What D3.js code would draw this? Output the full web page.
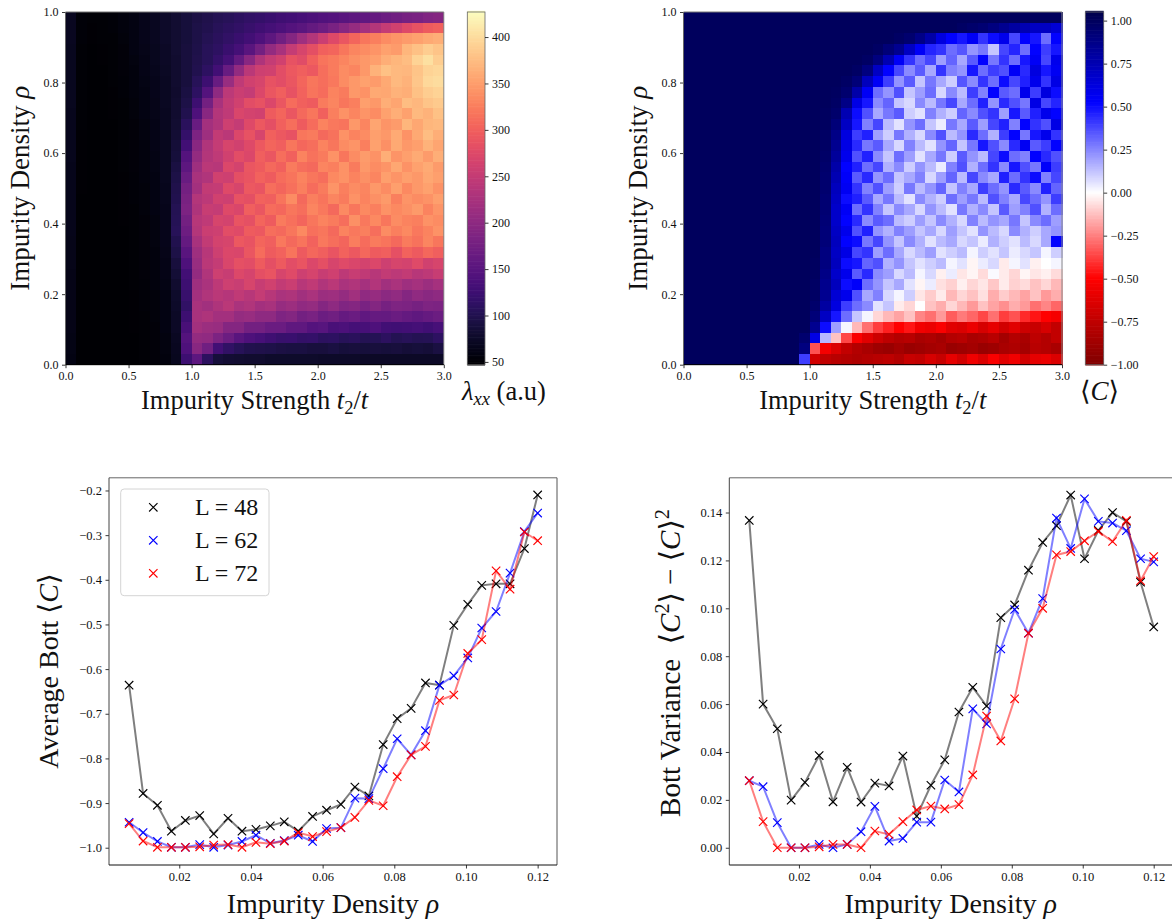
<!DOCTYPE html>
<html><head><meta charset="utf-8">
<script src="https://d3js.org/d3.v7.min.js"></script>
<style>html,body{margin:0;padding:0;background:#fff;overflow:hidden}svg{display:block}text{font-family:"Liberation Serif","Times New Roman",serif;fill:#111}</style>
</head><body><div id="c"></div>
<script>
// Heat map columns: impurity strength t2/t at cell centres
const strengths=[0.042,0.125,0.208,0.292,0.375,0.458,0.542,0.625,0.708,0.792,0.875,0.958,1.042,1.125,1.208,1.292,1.375,1.458,1.542,1.625,1.708,1.792,1.875,1.958,2.042,2.125,2.208,2.292,2.375,2.458,2.542,2.625,2.708,2.792,2.875,2.958];
// Heat map rows: impurity density rho at cell centres, top to bottom
const densities=[0.985,0.955,0.924,0.894,0.864,0.833,0.803,0.773,0.742,0.712,0.682,0.652,0.621,0.591,0.561,0.530,0.500,0.470,0.439,0.409,0.379,0.348,0.318,0.288,0.258,0.227,0.197,0.167,0.136,0.106,0.076,0.045,0.015];
// lambda_xx, one row per density
const lambdaGrid=[
[70,52,50,50,52,56,60,65,70,76,82,88,94,98,102,106,110,114,118,122,126,130,134,138,142,146,150,154,158,162,168,172,178,182,188,192],
[70,52,49,50,52,56,60,65,70,76,82,88,95,100,105,110,115,120,126,132,138,145,152,160,170,182,195,208,222,235,250,262,275,285,295,300],
[70,52,49,50,51,55,60,65,70,76,82,88,95,102,108,115,122,130,140,155,172,192,215,235,255,275,290,305,318,325,335,342,348,352,358,362],
[69,51,48,49,51,54,59,64,69,75,82,90,97,105,112,122,132,150,175,205,225,250,268,282,300,305,318,330,335,342,352,348,368,378,388,380],
[69,51,48,49,50,54,58,63,68,74,81,89,98,106,118,132,160,195,230,250,262,285,278,300,316,322,330,338,345,350,362,368,375,392,402,388],
[68,51,48,48,50,53,57,62,67,73,80,89,100,112,130,165,205,240,258,262,280,292,298,292,312,322,335,330,345,365,378,372,370,380,392,395],
[68,50,48,48,50,52,56,61,66,72,80,90,105,125,165,210,245,262,268,285,280,290,305,318,312,320,335,345,352,348,358,372,366,382,396,400],
[68,50,48,48,49,52,56,60,65,71,79,92,112,145,200,242,255,250,272,290,298,285,302,316,310,328,322,345,340,358,356,366,362,378,388,392],
[68,50,47,48,49,51,55,60,64,71,80,95,125,175,225,248,262,280,285,272,290,310,300,296,322,330,318,325,350,345,362,355,375,370,380,385],
[67,50,47,48,49,51,55,59,64,70,80,100,140,195,235,245,270,265,262,295,305,290,308,318,300,325,340,330,342,335,352,362,352,372,366,378],
[67,50,47,47,48,51,54,58,63,70,82,108,165,220,232,258,250,275,292,282,300,312,295,310,328,320,316,345,330,355,342,348,368,356,368,372],
[67,49,47,47,48,50,54,58,62,69,84,118,185,215,248,240,272,285,268,300,292,285,318,322,308,315,340,328,335,350,345,360,340,358,375,362],
[67,49,47,47,48,50,53,57,62,69,86,130,195,232,250,268,262,275,292,305,298,318,306,312,328,318,335,342,325,352,338,358,345,350,366,355],
[67,49,47,47,48,50,53,57,61,68,88,145,205,235,245,262,280,272,298,290,312,300,328,315,322,340,318,335,348,340,362,342,350,360,348,362],
[66,49,47,47,48,50,53,56,61,68,92,155,215,240,238,272,265,290,295,308,300,322,312,308,330,325,340,322,345,335,342,356,340,352,360,348],
[66,49,47,47,47,49,52,56,60,68,95,165,225,232,262,258,282,288,302,296,310,316,328,318,312,332,340,328,338,330,350,342,350,345,356,350],
[66,49,47,47,47,49,52,55,60,67,98,175,220,248,250,275,268,292,288,312,305,314,326,310,322,342,325,335,330,345,335,350,332,345,352,340],
[66,48,47,47,47,49,52,55,59,67,100,180,235,242,262,258,285,282,302,298,316,335,308,325,316,330,322,340,328,338,346,325,342,335,340,350],
[65,48,47,47,47,49,51,55,59,66,102,185,230,252,250,275,270,298,290,310,306,318,312,330,320,308,334,318,332,325,340,332,338,346,328,342],
[65,48,47,47,47,49,51,54,58,66,104,175,238,245,268,265,288,284,304,296,322,314,304,318,328,322,312,338,320,332,318,336,328,326,340,335],
[65,48,47,47,47,48,51,54,58,65,105,170,235,255,258,280,276,296,292,312,308,318,332,314,318,308,328,320,326,312,335,325,332,320,328,340],
[64,48,47,47,47,48,50,54,58,65,100,160,225,248,265,268,292,286,304,298,320,308,316,302,320,312,304,324,310,322,316,308,322,315,330,318],
[64,48,47,47,47,48,50,53,57,64,95,150,215,238,258,272,270,290,310,296,302,316,294,306,298,288,302,292,306,296,298,284,302,294,306,298],
[64,47,47,47,47,48,50,53,57,63,90,140,210,240,250,270,284,280,295,282,294,280,288,272,282,268,276,270,264,272,258,268,264,276,262,268],
[63,47,47,47,47,48,50,53,56,62,85,130,205,232,258,252,274,266,282,288,268,276,258,266,252,260,244,252,246,238,248,242,248,238,244,252],
[63,47,47,47,47,48,50,52,56,61,80,125,215,226,244,258,254,268,252,262,248,256,238,246,232,240,226,232,222,234,218,226,216,222,212,222],
[63,47,47,47,47,47,49,52,55,60,78,120,220,232,240,236,246,238,250,238,226,230,218,226,212,216,206,218,202,208,198,204,192,202,196,200],
[62,47,47,47,47,47,49,52,55,60,76,115,225,218,230,240,226,232,220,224,208,214,202,206,192,200,188,192,182,190,178,186,184,178,186,184],
[62,47,47,47,47,47,49,51,55,59,75,125,225,230,220,220,206,210,200,200,186,190,176,182,168,172,162,166,158,162,160,166,160,156,162,168],
[62,47,47,47,47,47,49,51,54,59,74,135,220,212,210,192,192,176,176,166,166,156,156,146,148,136,138,132,134,140,130,128,130,132,128,134],
[61,47,47,47,47,47,48,51,54,58,72,145,205,202,184,168,150,140,134,126,120,122,116,118,110,112,106,108,102,104,110,102,106,102,104,112],
[61,47,47,47,47,47,48,51,54,58,70,140,195,172,130,115,105,100,98,96,94,92,92,90,90,92,88,90,88,90,88,90,86,88,86,92],
[60,47,47,47,47,47,48,50,53,57,68,125,155,110,88,84,82,80,80,78,78,78,77,77,76,76,76,76,75,75,75,75,75,74,74,74]];
// Average Bott index <C> in hundredths
const bottGrid=[
[100,100,100,100,100,100,100,100,100,100,100,100,100,100,100,100,100,100,100,100,100,100,100,100,100,100,100,100,100,100,100,100,100,100,100,100],
[100,100,100,100,100,100,100,100,100,100,100,100,100,100,100,100,100,100,100,100,100,100,100,100,100,100,98,96,94,90,85,80,75,70,70,65],
[100,100,100,100,100,100,100,100,100,100,100,100,100,100,100,100,100,100,100,100,98,95,88,78,62,52,48,55,42,50,58,38,52,48,30,52],
[100,100,100,100,100,100,100,100,100,100,100,100,100,100,100,100,100,100,98,92,85,70,55,45,42,30,35,22,28,12,38,45,30,52,40,48],
[100,100,100,100,100,100,100,100,100,100,100,100,100,100,100,100,100,98,90,75,55,42,30,38,20,32,18,34,52,28,42,30,48,55,38,58],
[100,100,100,100,100,100,100,100,100,100,100,100,100,100,100,100,98,90,70,52,38,24,34,18,42,26,22,48,30,40,36,55,44,62,48,56],
[100,100,100,100,100,100,100,100,100,100,100,100,100,100,100,98,92,72,55,40,22,34,12,28,18,10,35,24,42,30,50,38,46,58,42,60],
[100,100,100,100,100,100,100,100,100,100,100,100,100,100,99,95,78,55,30,22,36,12,20,30,8,24,14,40,26,52,34,30,58,40,62,50],
[100,100,100,100,100,100,100,100,100,100,100,100,100,100,98,88,60,48,24,32,12,8,24,14,28,38,18,30,46,22,44,36,28,60,38,45],
[100,100,100,100,100,100,100,100,100,100,100,100,100,99,96,75,50,36,18,28,34,10,6,26,16,10,32,24,36,42,20,48,34,46,58,52],
[100,100,100,100,100,100,100,100,100,100,100,100,100,99,92,70,48,26,38,14,6,22,30,12,4,28,18,34,20,38,46,26,52,42,36,60],
[100,100,100,100,100,100,100,100,100,100,100,100,100,98,88,62,40,46,20,10,28,16,8,24,36,14,22,44,30,16,40,52,28,48,58,42],
[100,100,100,100,100,100,100,100,100,100,100,100,100,98,85,60,44,28,34,18,8,26,14,6,22,32,12,28,48,36,24,44,56,34,40,52],
[100,100,100,100,100,100,100,100,100,100,100,100,100,97,82,58,36,46,24,12,30,20,6,18,28,10,34,22,14,38,50,30,26,52,44,36],
[100,100,100,100,100,100,100,100,100,100,100,100,100,96,78,52,46,30,38,16,24,10,22,14,4,26,36,16,30,42,24,48,36,28,54,40],
[100,100,100,100,100,100,100,100,100,100,100,100,100,95,75,54,34,44,22,30,12,18,26,8,20,32,14,38,24,18,46,30,42,50,26,38],
[100,100,100,100,100,100,100,100,100,100,100,100,100,95,72,56,42,26,36,20,10,28,14,22,32,12,26,18,40,30,22,44,34,24,46,32],
[100,100,100,100,100,100,100,100,100,100,100,100,100,94,70,50,46,34,18,28,14,6,24,16,10,30,20,28,14,36,26,18,38,30,22,40],
[100,100,100,100,100,100,100,100,100,100,100,100,100,94,68,55,30,42,26,12,24,18,8,22,14,6,28,16,24,12,34,20,26,36,16,30],
[100,100,100,100,100,100,100,100,100,100,100,100,100,93,68,52,44,24,34,30,14,10,20,12,24,16,8,26,14,22,18,28,12,24,30,20],
[100,100,100,100,100,100,100,100,100,100,100,100,100,92,70,58,36,46,22,16,26,20,12,18,8,20,12,6,22,14,8,24,16,10,18,22],
[100,100,100,100,100,100,100,100,100,100,100,100,100,92,72,52,50,28,38,22,12,24,16,6,14,18,8,12,4,16,10,6,14,8,18,52],
[100,100,100,100,100,100,100,100,100,100,100,100,100,90,70,60,38,42,20,30,18,8,14,20,6,10,14,2,10,6,12,4,8,12,2,10],
[100,100,100,100,100,100,100,100,100,100,100,100,99,90,72,50,48,32,36,16,22,12,6,10,14,2,6,-2,4,8,-4,2,6,-3,0,2],
[100,100,100,100,100,100,100,100,100,100,100,100,99,88,68,58,34,44,24,20,8,14,2,8,-3,4,-5,-2,-7,1,-4,-8,-2,-5,-3,-7],
[100,100,100,100,100,100,100,100,100,100,100,100,98,86,72,50,54,30,22,12,18,6,-2,4,-6,-9,-3,-8,-5,-11,-4,-9,-7,-12,-8,-14],
[100,100,100,100,100,100,100,100,100,100,100,100,98,85,65,58,36,18,26,8,2,10,-5,-10,-4,-14,-8,-12,-6,-16,-10,-14,-18,-12,-20,-16],
[100,100,100,100,100,100,100,100,100,100,100,100,96,80,62,40,30,24,6,12,-4,-8,0,-12,-16,-8,-14,-20,-12,-18,-22,-16,-20,-28,-24,-30],
[100,100,100,100,100,100,100,100,100,100,100,100,92,70,48,30,12,2,-8,-14,-18,-12,-24,-28,-20,-32,-26,-30,-36,-28,-38,-34,-42,-46,-50,-54],
[100,100,100,100,100,100,100,100,100,100,100,100,85,50,20,2,-14,-28,-38,-44,-50,-46,-55,-58,-52,-62,-64,-58,-66,-60,-68,-62,-70,-72,-66,-74],
[100,100,100,100,100,100,100,100,100,100,100,95,60,15,-12,-36,-52,-62,-70,-76,-80,-78,-84,-82,-86,-80,-78,-84,-82,-78,-86,-80,-84,-76,-80,-74],
[100,100,100,100,100,100,100,100,100,100,100,90,-34,-54,-64,-74,-80,-84,-88,-90,-86,-90,-88,-86,-84,-90,-88,-86,-90,-88,-84,-82,-86,-78,-80,-84],
[100,100,100,100,100,100,100,100,100,100,100,40,-68,-75,-78,-80,-82,-80,-78,-76,-80,-72,-74,-66,-72,-60,-68,-56,-64,-52,-62,-56,-68,-60,-58,-64]];

// Line panels
const rhoValues=[0.006,0.0099,0.0139,0.0178,0.0217,0.0257,0.0296,0.0336,0.0375,0.0414,0.0454,0.0493,0.0532,0.0572,0.0611,0.0651,0.069,0.0729,0.0769,0.0808,0.0847,0.0887,0.0926,0.0966,0.1005,0.1044,0.1084,0.1123,0.1163,0.12];
const meanL48=[-0.636,-0.8785,-0.905,-0.963,-0.939,-0.928,-0.969,-0.934,-0.963,-0.959,-0.951,-0.942,-0.963,-0.93,-0.916,-0.903,-0.864,-0.884,-0.769,-0.711,-0.688,-0.631,-0.636,-0.502,-0.455,-0.4125,-0.409,-0.409,-0.33,-0.21];
const meanL62=[-0.943,-0.966,-0.986,-0.999,-0.999,-0.993,-0.999,-0.994,-0.986,-0.972,-0.99,-0.984,-0.972,-0.986,-0.957,-0.955,-0.889,-0.89,-0.823,-0.756,-0.792,-0.738,-0.636,-0.615,-0.575,-0.508,-0.471,-0.385,-0.292,-0.2505];
const meanL72=[-0.946,-0.985,-0.999,-0.999,-0.999,-0.998,-0.994,-0.993,-0.999,-0.988,-0.991,-0.985,-0.966,-0.975,-0.964,-0.955,-0.932,-0.894,-0.906,-0.841,-0.792,-0.773,-0.67,-0.658,-0.565,-0.534,-0.38,-0.421,-0.293,-0.3125];
const varL48=[0.1367,0.06,0.0497,0.0199,0.0273,0.0385,0.0192,0.0336,0.0191,0.027,0.0258,0.0383,0.0132,0.0261,0.0367,0.0567,0.067,0.0592,0.0961,0.1014,0.1159,0.1275,0.1345,0.1473,0.1207,0.1325,0.14,0.1363,0.1109,0.0922];
const varL62=[0.028,0.0255,0.0105,0,0,0.0014,0,0.0014,0.0067,0.0173,0.0028,0.0039,0.0107,0.0107,0.0283,0.0233,0.058,0.0517,0.083,0.0995,0.0896,0.1041,0.1377,0.125,0.1457,0.1363,0.1356,0.1324,0.1207,0.1194];
const varL72=[0.028,0.0109,0,0,0,0.0004,0.0014,0.0014,0,0.007,0.0056,0.0109,0.0158,0.0174,0.0162,0.018,0.0304,0.055,0.0446,0.0622,0.0896,0.1,0.1223,0.1237,0.1282,0.1321,0.1279,0.1367,0.1115,0.1216];
const seriesLabels=["L = 48","L = 62","L = 72"];
const seriesColors=["#000000","#0000ff","#ff0000"];
// Tick labels
const strengthTicks=[0,0.5,1,1.5,2,2.5,3];
const densityTicks=[0,0.2,0.4,0.6,0.8,1];
const lambdaTicks=[50,100,150,200,250,300,350,400];
const bottTicks=[-1,-0.75,-0.5,-0.25,0,0.25,0.5,0.75,1];
const rhoTicks=[0.02,0.04,0.06,0.08,0.1,0.12];
const meanTicks=[-1,-0.9,-0.8,-0.7,-0.6,-0.5,-0.4,-0.3,-0.2];
const varTicks=[0,0.02,0.04,0.06,0.08,0.1,0.12,0.14];

const svg=d3.select("#c").append("svg").attr("width",1172).attr("height",920);

function richText(g,x,y,size,parts,opts={}){
  const t=g.append("text").attr("font-size",size).attr("text-anchor",opts.anchor||"middle");
  if(opts.rotate) t.attr("transform",`translate(${x},${y}) rotate(-90)`); else t.attr("x",x).attr("y",y);
  let shift=0;
  parts.forEach(p=>{
    const s=t.append("tspan").text(p.t);
    if(p.i) s.attr("font-style","italic");
    const target=p.sub?size*0.2:p.sup?-size*0.38:0;
    if(target!==shift){s.attr("dy",target-shift);shift=target;}
    if(p.sub||p.sup) s.attr("font-size",size*0.7);
    if(p.f) s.style("font-family",p.f);
  });
  return t;
}
const fmtMinus=f=>v=>f(v).replace("-","\u2212");

function spines(g,b,c){
  const seg=(x1,y1,x2,y2,col,w)=>g.append("line").attr("x1",x1).attr("y1",y1).attr("x2",x2).attr("y2",y2).attr("stroke",col).attr("stroke-width",w);
  seg(b.l,b.t,b.r,b.t,c.top,1);
  if(c.right) seg(b.r,b.t,b.r,b.b,c.right,1);
  seg(b.l,b.t,b.l,b.b,c.left,1);
  seg(b.l,b.b,b.r,b.b,c.bottom,1);
}
function styleAxis(a,size){
  a.select(".domain").remove();
  a.selectAll(".tick line").attr("stroke","#222").attr("stroke-width",0.9);
  a.selectAll(".tick text").attr("font-size",size).attr("font-family",'"Liberation Serif",serif').attr("fill","#111");
}

function heatPanel(cfg){
  const b=cfg.box;
  const g=svg.append("g");
  const colX=d3.scaleBand().domain(strengths).range([b.l,b.r]).paddingInner(0).paddingOuter(0);
  const rowY=d3.scaleBand().domain(densities).range([b.t,b.b]);
  densities.forEach((d,ri)=>{
    g.append("g").attr("shape-rendering","crispEdges").selectAll("rect").data(cfg.grid[ri]).join("rect")
      .attr("x",(v,ci)=>colX(strengths[ci])).attr("y",rowY(d))
      .attr("width",colX.bandwidth()+0.6).attr("height",rowY.bandwidth()+0.6)
      .attr("fill",v=>cfg.color(v*cfg.k));
  });
  const x=d3.scaleLinear().domain([0,3]).range([b.l,b.r]);
  const y=d3.scaleLinear().domain([0,1]).range([b.b,b.t]);
  styleAxis(g.append("g").attr("transform",`translate(0,${b.b})`).call(d3.axisBottom(x).tickValues(strengthTicks).tickFormat(d3.format(".1f")).tickSize(3.5).tickPadding(3.5)),12);
  styleAxis(g.append("g").attr("transform",`translate(${b.l},0)`).call(d3.axisLeft(y).tickValues(densityTicks).tickFormat(d3.format(".1f")).tickSize(3.5).tickPadding(3.5)),12);
  spines(g,b,{top:"#777",right:"#888",left:"#666",bottom:"#000"});
  richText(g,(b.l+b.r)/2,cfg.xlY,26.5,[{t:"Impurity Strength "},{t:"t",i:1},{t:"2",sub:1},{t:"/"},{t:"t",i:1}]);
  richText(g,cfg.ylX,(b.t+b.b)/2,27,[{t:"Impurity Density "},{t:"\u03c1",i:1}],{rotate:1});
  // colour bar
  const cb=cfg.cbar;
  const cy=d3.scaleLinear().domain(cfg.cdomain).range([b.b,b.t]);
  const steps=d3.range(256).map(i=>cfg.cdomain[0]+(cfg.cdomain[1]-cfg.cdomain[0])*i/255);
  g.append("g").selectAll("rect").data(steps).join("rect")
    .attr("x",cb[0]).attr("width",cb[1]-cb[0]).attr("y",v=>cy(v)-1.2).attr("height",2)
    .attr("fill",v=>cfg.color(v));
  g.append("rect").attr("x",cb[0]).attr("y",b.t).attr("width",cb[1]-cb[0]).attr("height",b.b-b.t).attr("fill","none").attr("stroke","#666").attr("stroke-width",0.8);
  styleAxis(g.append("g").attr("transform",`translate(${cb[1]},0)`).call(d3.axisRight(cy).tickValues(cfg.cticks).tickFormat(cfg.cfmt).tickSize(3.5).tickPadding(3.5)),cfg.csize);
  richText(g,cfg.cl[0],cfg.cl[1],cfg.cl[2],cfg.clabel,{anchor:"start"});
}

const magma=d3.scaleSequential([47,427],d3.interpolateMagma);
const seis=d3.scaleLinear().domain([-1,-0.5,0,0.525,1.05]).range(["#800000","#ff0000","#ffffff","#0000ff","#00004c"]).clamp(true);

heatPanel({box:{l:65.5,r:443.8,t:12,b:364.7},grid:lambdaGrid,k:1,color:magma,xlY:409,ylX:29,cbar:[467.3,485],cdomain:[47,427],cticks:lambdaTicks,cfmt:d3.format("d"),csize:12,
  cl:[462,400,26.5],clabel:[{t:"\u03bb",i:1},{t:"xx",i:1,sub:1},{t:" (a.u)"}]});
heatPanel({box:{l:683.5,r:1062,t:12,b:364.7},grid:bottGrid,k:0.01,color:seis,xlY:409,ylX:647,cbar:[1085.3,1103.7],cdomain:[-1,1.05],cticks:bottTicks,cfmt:fmtMinus(d3.format(".2f")),csize:12,
  cl:[1080,400,27],clabel:[{t:"\u27e8",f:'"DejaVu Serif"'},{t:"C",i:1},{t:"\u27e9",f:'"DejaVu Serif"'}]});

function linePanel(cfg){
  const b=cfg.box,g=svg.append("g");
  const x=d3.scaleLinear().domain(cfg.xd).range([b.l,b.r]);
  const y=d3.scaleLinear().domain(cfg.yd).range([b.b,b.t]);
  styleAxis(g.append("g").attr("transform",`translate(0,${b.b})`).call(d3.axisBottom(x).tickValues(rhoTicks).tickFormat(d3.format(".2f")).tickSize(3.5).tickPadding(3.5)),12.5);
  styleAxis(g.append("g").attr("transform",`translate(${b.l},0)`).call(d3.axisLeft(y).tickValues(cfg.ticks).tickFormat(cfg.fmt).tickSize(3.5).tickPadding(3.5)),12.5);
  const line=d3.line().x((v,i)=>x(rhoValues[i])).y(v=>y(v));
  cfg.series.forEach((s,k)=>{
    g.append("path").attr("d",line(s)).attr("fill","none").attr("stroke",seriesColors[k]).attr("stroke-opacity",0.5).attr("stroke-width",2);
    g.append("g").selectAll("path").data(s).join("path")
      .attr("transform",(v,i)=>`translate(${x(rhoValues[i])},${y(v)})`)
      .attr("d",d3.line()([[-4.2,-4.2],[4.2,4.2]])+d3.line()([[-4.2,4.2],[4.2,-4.2]]))
      .attr("stroke",seriesColors[k]).attr("stroke-width",1.15).attr("fill","none");
  });
  spines(g,b,cfg.sp);
  richText(g,(b.l+b.r)/2+(cfg.xlShift||0),cfg.xlY,28,[{t:"Impurity Density "},{t:"\u03c1",i:1}]);
  richText(g,cfg.ylX,cfg.ylY,cfg.yls,cfg.yl,{rotate:1});
}
const ang=[{t:"\u27e8",f:'"DejaVu Serif"'},{t:"\u27e9",f:'"DejaVu Serif"'}];
linePanel({box:{l:109,r:557,t:477.8,b:865},xd:[0.00039,0.1254],yd:[-1.0387,-0.1716],ticks:meanTicks,fmt:fmtMinus(d3.format(".1f")),
  series:[meanL48,meanL62,meanL72],xlY:913,ylX:58,ylY:671,yls:28,sp:{top:"#666",right:"#555",left:"#444",bottom:"#111"},
  yl:[{t:"Average Bott "},ang[0],{t:"C",i:1},ang[1]]});
linePanel({box:{l:729.3,r:1172,t:477.8,b:865},xd:[0.00037,0.12516],yd:[-0.0072,0.1545],ticks:varTicks,fmt:d3.format(".2f"),
  series:[varL48,varL62,varL72],xlY:913,ylX:680,ylY:663,yls:29,sp:{top:"#666",left:"#444",bottom:"#111"},
  yl:[{t:"Bott Variance\u00a0\u00a0"},ang[0],{t:"C",i:1},{t:"2",sup:1},{...ang[1]},{t:" \u2212 "},ang[0],{t:"C",i:1},ang[1],{t:"2",sup:1}]});

// legend
const leg=svg.append("g");
leg.append("rect").attr("x",120.7).attr("y",489).attr("width",148.3).attr("height",106.7).attr("rx",3.5).attr("fill","#fff").attr("fill-opacity",0.8).attr("stroke","#d4d4d4").attr("stroke-width",1);
seriesLabels.forEach((l,i)=>{
  const yy=507.3+33*i;
  leg.append("path").attr("transform",`translate(153.3,${yy})`).attr("d",d3.line()([[-4.2,-4.2],[4.2,4.2]])+d3.line()([[-4.2,4.2],[4.2,-4.2]])).attr("stroke",seriesColors[i]).attr("stroke-width",1.15).attr("fill","none");
  leg.append("text").attr("x",195).attr("y",yy+7.5).attr("font-size",24).text(l);
});
</script></body></html>
